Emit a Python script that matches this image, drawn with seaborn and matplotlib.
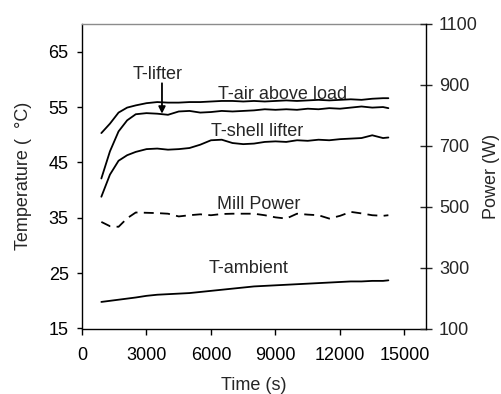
import matplotlib
matplotlib.use("Agg")
import matplotlib.pyplot as plt
import seaborn as sns
import pandas as pd

# ---- data ----
time_s = [900, 1300, 1700, 2100, 2500, 3000, 3500, 4000, 4500, 5000, 5500, 6000, 6500, 7000,
          7500, 8000, 8500, 9000, 9500, 10000, 10500, 11000, 11500, 12000, 12500, 13000,
          13500, 14000, 14250]
t_air = [50.3, 52.0, 54.0, 54.9, 55.3, 55.7, 55.9, 55.8, 55.8, 55.9, 55.9, 56.0, 56.1, 56.1,
         56.0, 56.1, 56.0, 56.1, 56.2, 56.1, 56.2, 56.3, 56.2, 56.3, 56.4, 56.3, 56.5, 56.6, 56.6]
t_lifter = [42.1, 47.0, 50.6, 52.6, 53.7, 53.9, 53.8, 53.6, 54.2, 54.3, 54.0, 54.1, 54.3, 54.2,
            54.3, 54.4, 54.6, 54.5, 54.6, 54.5, 54.7, 54.6, 54.8, 54.7, 54.9, 55.1, 54.9, 55.0, 54.8]
t_shell = [38.8, 42.8, 45.3, 46.3, 46.9, 47.4, 47.5, 47.3, 47.4, 47.6, 48.2, 49.0, 49.1, 48.5,
           48.3, 48.4, 48.7, 48.8, 48.7, 49.0, 48.9, 49.1, 49.0, 49.2, 49.3, 49.4, 49.9, 49.4, 49.5]
t_ambient = [19.8, 20.0, 20.2, 20.4, 20.6, 20.9, 21.1, 21.2, 21.3, 21.4, 21.6, 21.8, 22.0, 22.2,
             22.4, 22.6, 22.7, 22.8, 22.9, 23.0, 23.1, 23.2, 23.3, 23.4, 23.5, 23.5, 23.6, 23.6, 23.7]
mill_power = [450, 436, 434, 462, 481, 480, 479, 477, 468, 472, 475, 472, 476, 477,
              477, 477, 472, 465, 461, 477, 474, 472, 461, 470, 483, 478, 472, 470, 472]

temp_ticks = [15, 25, 35, 45, 55, 65]
power_ticks = [100, 300, 500, 700, 900, 1100]
time_ticks = [0, 3000, 6000, 9000, 12000, 15000]

df = pd.DataFrame({"time": time_s, "air": t_air, "lifter": t_lifter, "shell": t_shell,
                   "ambient": t_ambient, "power": mill_power})

sns.set_style("white")
plt.rcParams["font.family"] = ["Liberation Sans", "DejaVu Sans"]
plt.rcParams["font.size"] = 13

fig = plt.figure(figsize=(5.02, 3.94), dpi=100)
ax = fig.add_axes([82 / 502, 1 - 328.5 / 394, (426 - 82) / 502, (328.5 - 24) / 394])

for col in ["air", "lifter", "shell", "ambient"]:
    sns.lineplot(data=df, x="time", y=col, ax=ax, color="black", linewidth=1.3)

ax.set_xlim(0, 16000)
ax.set_ylim(15, 70)
ax.set_xticks(time_ticks)
ax.set_yticks(temp_ticks)
ax.set_xlabel("Time (s)", fontsize=13)
ax.set_ylabel("Temperature (  \u00b0C)", fontsize=13)
ax.xaxis.set_label_coords(0.5, -0.16)
ax.yaxis.set_label_coords(-0.145, 0.5)
ax.tick_params(axis="both", labelsize=13, colors="black")
ax.tick_params(axis="x", direction="out", length=4.3, width=1, bottom=True, pad=9)
ax.tick_params(axis="y", direction="out", length=3.6, width=1, left=True, pad=6)

for side in ["left", "bottom"]:
    ax.spines[side].set_color("black")
    ax.spines[side].set_linewidth(1)
ax.spines["top"].set_color("#8c8c8c")
ax.spines["top"].set_linewidth(1)
ax.spines["right"].set_visible(False)

ax2 = ax.twinx()
sns.lineplot(data=df, x="time", y="power", ax=ax2, color="black", linewidth=1.3)
ax2.lines[0].set_dashes([5.5, 3.5])
ax2.set_ylim(100, 1100)
ax2.set_yticks(power_ticks)
ax2.set_ylabel("Power (W)", fontsize=13)
ax2.yaxis.set_label_coords(1.165, 0.5)
ax2.tick_params(axis="y", direction="inout", length=8.6, width=1, right=True, labelsize=13, pad=5)
ax2.spines["right"].set_color("black")
ax2.spines["right"].set_linewidth(1)
for side in ["left", "bottom", "top"]:
    ax2.spines[side].set_visible(False)

# annotations
ax.annotate("", xy=(3720, 53.3), xytext=(3720, 59.8),
            arrowprops=dict(arrowstyle="-|>", color="black", lw=1.3, mutation_scale=10))
ax.text(3500, 60.0, "T-lifter", ha="center", va="baseline", fontsize=13)
ax.text(9350, 56.4, "T-air above load", ha="center", va="baseline", fontsize=13)
ax.text(8150, 49.8, "T-shell lifter", ha="center", va="baseline", fontsize=13)
ax.text(8230, 36.5, "Mill Power", ha="center", va="baseline", fontsize=13)
ax.text(7770, 25.0, "T-ambient", ha="center", va="baseline", fontsize=13)

fig.savefig("out.png", dpi=100)
